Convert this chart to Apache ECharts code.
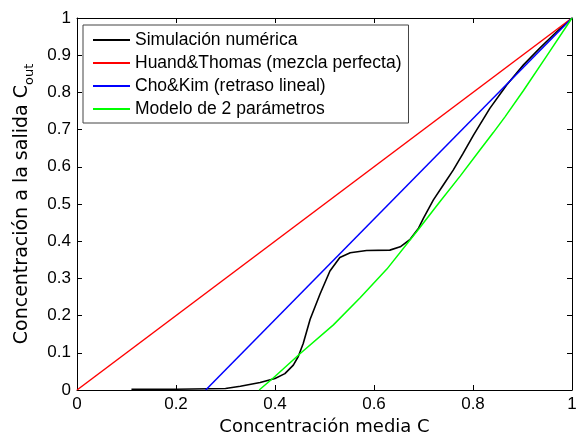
<!DOCTYPE html>
<html>
<head>
<meta charset="utf-8">
<script src="https://cdn.jsdelivr.net/npm/echarts@6/dist/echarts.min.js"></script>
<style>
  html, body { margin: 0; padding: 0; background: #fff; }
  #chart { width: 579px; height: 435px; }
</style>
</head>
<body>
<div id="chart"></div>
<script>
// series names (legend order)
var names = ['Simulación numérica', 'Huand&Thomas (mezcla perfecta)', 'Cho&Kim (retraso lineal)', 'Modelo de 2 parámetros'];

// simulacion numerica
var simX = [0.11, 0.20, 0.30, 0.33, 0.37, 0.40, 0.42, 0.437, 0.447, 0.457, 0.471, 0.491, 0.511, 0.531, 0.552, 0.585, 0.632, 0.653, 0.673, 0.690, 0.700, 0.720, 0.740, 0.760, 0.780, 0.801, 0.834, 0.868, 0.902, 0.935, 0.969, 1.0];
var simY = [0.002, 0.002, 0.004, 0.010, 0.020, 0.031, 0.044, 0.067, 0.090, 0.125, 0.190, 0.258, 0.320, 0.356, 0.369, 0.375, 0.376, 0.385, 0.405, 0.435, 0.462, 0.511, 0.551, 0.591, 0.636, 0.685, 0.757, 0.820, 0.874, 0.919, 0.963, 1.0];

// Huand&Thomas
var htX = [0, 1];
var htY = [0, 1];

// Cho&Kim
var ckX = [0.26, 1];
var ckY = [0, 1];

// modelo de 2 parametros
var m2X = [0.368, 0.397, 0.451, 0.518, 0.572, 0.626, 0.690, 0.733, 0.774, 0.814, 0.841, 0.865, 0.902, 0.949, 1.0];
var m2Y = [0, 0.033, 0.098, 0.175, 0.248, 0.325, 0.432, 0.506, 0.575, 0.645, 0.692, 0.735, 0.805, 0.898, 1.0];

function pares(xs, ys) {
    return xs.map(function (x, i) { return [x, ys[i]]; });
}

var fuente = "'Liberation Sans', Arial, sans-serif";
var fuenteEje = "'DejaVu Sans', sans-serif";
var chart = echarts.init(document.getElementById('chart'), null, { renderer: 'canvas' });

function eje(tipo, pos, paso, etiquetas) {
    return {
        type: 'value', min: 0, max: 1, interval: paso, position: pos,
        axisLine: { show: true, onZero: false, lineStyle: { color: '#000', width: 1 } },
        axisTick: { show: true, inside: true, length: 5, lineStyle: { color: '#000' } },
        axisLabel: { show: etiquetas, color: '#000', fontSize: 17, fontFamily: fuente, margin: 6 },
        splitLine: { show: false }
    };
}

var xAbajo = eje('x', 'bottom', 0.2, true);
xAbajo.name = 'Concentración media C';
xAbajo.nameLocation = 'middle';
xAbajo.nameGap = 26;
xAbajo.nameTextStyle = { color: '#000', fontSize: 18, fontFamily: fuenteEje };

var yIzq = eje('y', 'left', 0.1, true);
yIzq.name = '{a|Concentración a la salida C}{s|out}';
yIzq.nameLocation = 'middle';
yIzq.nameGap = 42;
yIzq.nameTextStyle = {
    color: '#000', fontFamily: fuenteEje,
    rich: {
        a: { fontSize: 19, fontFamily: fuenteEje, color: '#000', lineHeight: 21, verticalAlign: 'top' },
        s: { fontSize: 13, fontFamily: fuenteEje, color: '#000', lineHeight: 13, verticalAlign: 'bottom', padding: [0, 0, -3, 0] }
    }
};

var option = {
    animation: false,
    backgroundColor: '#fff',
    grid: { left: 77, right: 7, top: 18, bottom: 45, containLabel: false, outerBoundsMode: 'none' },
    legend: {
        orient: 'vertical', left: 83, top: 25,
        backgroundColor: '#fff', borderColor: '#444', borderWidth: 1, borderRadius: 0,
        padding: [6, 7, 5, 9],
        itemWidth: 37, itemHeight: 18, itemGap: 5,
        itemStyle: { opacity: 0 },
        textStyle: { color: '#000', fontSize: 17.5, fontFamily: fuente, lineHeight: 18 },
        data: names
    },
    xAxis: [xAbajo, eje('x', 'top', 0.2, false)],
    yAxis: [yIzq, eje('y', 'right', 0.1, false)],
    series: [
        { name: names[0], type: 'line', data: pares(simX, simY), showSymbol: false, symbol: 'none',
          lineStyle: { color: '#000000', width: 1.6 }, itemStyle: { color: '#000000' } },
        { name: names[1], type: 'line', data: pares(htX, htY), showSymbol: false, symbol: 'none',
          lineStyle: { color: '#ff0000', width: 1.5 }, itemStyle: { color: '#ff0000' } },
        { name: names[2], type: 'line', data: pares(ckX, ckY), showSymbol: false, symbol: 'none',
          lineStyle: { color: '#0000ff', width: 1.5 }, itemStyle: { color: '#0000ff' } },
        { name: names[3], type: 'line', data: pares(m2X, m2Y), showSymbol: false, symbol: 'none',
          lineStyle: { color: '#00ff00', width: 1.5 }, itemStyle: { color: '#00ff00' } }
    ]
};
chart.setOption(option);
</script>
</body>
</html>
